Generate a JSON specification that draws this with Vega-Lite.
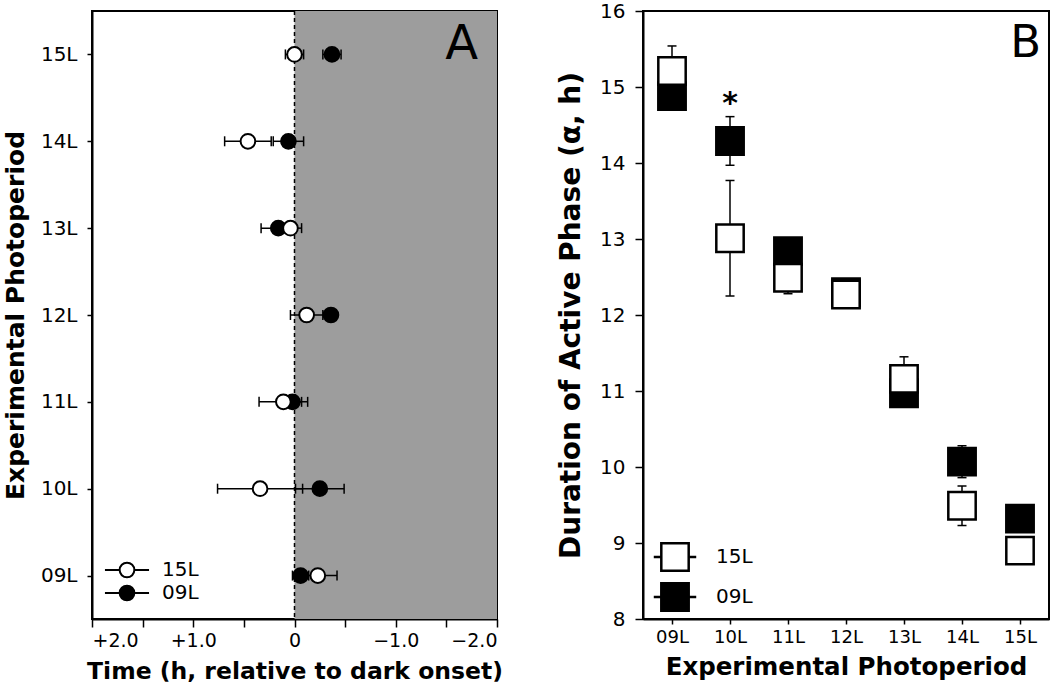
{
  "$schema": "https://vega.github.io/schema/vega-lite/v6.json",
  "background": "white",
  "padding": {"left": 2, "top": 0, "right": 0, "bottom": 0},
  "spacing": 146,
  "bounds": "flush",
  "config": {
    "view": {"stroke": "black", "strokeWidth": 2},
    "axis": {"grid": false, "domainColor": "black", "domainWidth": 2, "tickColor": "black", "tickWidth": 1.5, "labelColor": "black", "titleColor": "black", "labelFont": "DejaVu Sans", "titleFont": "DejaVu Sans", "labelFontSize": 19, "titleFontSize": 25, "titleFontWeight": "bold"},
    "legend": {"labelFont": "DejaVu Sans", "labelFontSize": 20, "labelColor": "black"}
  },
  "datasets": {
    "phase": [
      {"period": "15L", "group": "09L", "mean": -0.37, "lo": -0.46, "hi": -0.28},
      {"period": "14L", "group": "09L", "mean": 0.06, "lo": -0.09, "hi": 0.21},
      {"period": "13L", "group": "09L", "mean": 0.16, "lo": -0.01, "hi": 0.33},
      {"period": "12L", "group": "09L", "mean": -0.36, "lo": -0.41, "hi": -0.31},
      {"period": "11L", "group": "09L", "mean": 0.02, "lo": -0.07, "hi": 0.11},
      {"period": "10L", "group": "09L", "mean": -0.25, "lo": -0.49, "hi": -0.01},
      {"period": "09L", "group": "09L", "mean": -0.06, "lo": -0.14, "hi": 0.02},
      {"period": "15L", "group": "15L", "mean": 0.0, "lo": -0.09, "hi": 0.09},
      {"period": "14L", "group": "15L", "mean": 0.46, "lo": 0.23, "hi": 0.69},
      {"period": "13L", "group": "15L", "mean": 0.04, "lo": -0.07, "hi": 0.15},
      {"period": "12L", "group": "15L", "mean": -0.12, "lo": -0.28, "hi": 0.04},
      {"period": "11L", "group": "15L", "mean": 0.11, "lo": -0.13, "hi": 0.35},
      {"period": "10L", "group": "15L", "mean": 0.34, "lo": -0.08, "hi": 0.76},
      {"period": "09L", "group": "15L", "mean": -0.23, "lo": -0.42, "hi": -0.04}
    ],
    "alpha": [
      {"period": "09L", "group": "09L", "mean": 14.88, "lo": 14.7, "hi": 15.06},
      {"period": "10L", "group": "09L", "mean": 14.29, "lo": 13.97, "hi": 14.61},
      {"period": "11L", "group": "09L", "mean": 12.84, "lo": 12.72, "hi": 12.96},
      {"period": "12L", "group": "09L", "mean": 12.3, "lo": 12.22, "hi": 12.38},
      {"period": "13L", "group": "09L", "mean": 10.97, "lo": 10.87, "hi": 11.07},
      {"period": "14L", "group": "09L", "mean": 10.07, "lo": 9.86, "hi": 10.28},
      {"period": "15L", "group": "09L", "mean": 9.32, "lo": 9.22, "hi": 9.42},
      {"period": "09L", "group": "15L", "mean": 15.21, "lo": 14.88, "hi": 15.54},
      {"period": "10L", "group": "15L", "mean": 13.01, "lo": 12.25, "hi": 13.77},
      {"period": "11L", "group": "15L", "mean": 12.49, "lo": 12.28, "hi": 12.7},
      {"period": "12L", "group": "15L", "mean": 12.27, "lo": 12.2, "hi": 12.34},
      {"period": "13L", "group": "15L", "mean": 11.16, "lo": 10.87, "hi": 11.45},
      {"period": "14L", "group": "15L", "mean": 9.49, "lo": 9.23, "hi": 9.75},
      {"period": "15L", "group": "15L", "mean": 8.9, "lo": 8.8, "hi": 9.0}
    ]
  },
  "hconcat": [
    {
      "width": 405,
      "height": 608,
      "layer": [
        {
          "data": {"values": [{}]},
          "mark": {"type": "rect", "color": "#9d9d9d"},
          "encoding": {
            "x": {"datum": 0, "type": "quantitative",
              "scale": {"domain": [-2, 2], "reverse": true, "nice": false, "zero": false},
              "axis": {"title": "Time (h, relative to dark onset)", "titleFontSize": 23.5, "values": [-2, -1.75, -1.5, -1.25, -1, -0.75, -0.5, -0.25, 0, 0.25, 0.5, 0.75, 1, 1.25, 1.5, 1.75, 2],
                "labelExpr": "datum.value % 1 === 0 ? (datum.value > 0 ? '+' + format(datum.value, '.1f') : (datum.value < 0 ? '\u2212' + format(-datum.value, '.1f') : '0')) : ''",
                "tickSize": {"condition": {"test": "datum.value % 0.5 === 0", "value": 8}, "value": 5},
                "labelPadding": 4, "titlePadding": 9}},
            "x2": {"datum": -2}
          }
        },
        {
          "data": {"values": [{}]},
          "mark": {"type": "rule", "strokeDash": [4, 3], "strokeWidth": 1.5, "color": "black"},
          "encoding": {"x": {"datum": 0, "type": "quantitative"}}
        },
        {
          "data": {"name": "phase"},
          "mark": {"type": "rule", "strokeWidth": 1.5, "color": "black"},
          "encoding": {
            "y": {"field": "period", "type": "nominal", "scale": {"type": "point", "domain": ["15L", "14L", "13L", "12L", "11L", "10L", "09L"], "padding": 0.5},
              "axis": {"title": "Experimental Photoperiod", "tickSize": 5, "labelPadding": 10, "titlePadding": 12, "labelFontSize": 20}},
            "x": {"field": "lo", "type": "quantitative"},
            "x2": {"field": "hi"}
          }
        },
        {
          "data": {"name": "phase"},
          "mark": {"type": "tick", "orient": "vertical", "size": 10, "thickness": 1.5, "color": "black", "opacity": 1},
          "encoding": {
            "y": {"field": "period", "type": "nominal", "scale": {"type": "point"}},
            "x": {"field": "lo", "type": "quantitative"}
          }
        },
        {
          "data": {"name": "phase"},
          "mark": {"type": "tick", "orient": "vertical", "size": 10, "thickness": 1.5, "color": "black", "opacity": 1},
          "encoding": {
            "y": {"field": "period", "type": "nominal", "scale": {"type": "point"}},
            "x": {"field": "hi", "type": "quantitative"}
          }
        },
        {
          "data": {"name": "phase"},
          "mark": {"type": "point", "shape": "circle", "filled": true, "size": 216, "stroke": "black", "strokeWidth": 2, "opacity": 1},
          "encoding": {
            "y": {"field": "period", "type": "nominal", "scale": {"type": "point"}},
            "x": {"field": "mean", "type": "quantitative"},
            "fill": {"field": "group", "type": "nominal", "scale": {"domain": ["15L", "09L"], "range": ["white", "black"]},
              "legend": {"title": null, "orient": "none", "legendX": 25, "legendY": 549, "padding": 0,
                "symbolType": "M-3,0L-1,0M1,0L3,0M-1,0A1,1,0,1,1,1,0A1,1,0,1,1,-1,0Z",
                "symbolSize": 216, "symbolStrokeColor": "black", "symbolStrokeWidth": 2, "symbolOpacity": 1,
                "labelOffset": 25, "rowPadding": -1}}
          }
        },
        {
          "data": {"values": [{}]},
          "mark": {"type": "text", "text": "A", "fontSize": 48, "font": "DejaVu Sans", "baseline": "alphabetic", "align": "right", "dx": -19, "dy": 5, "color": "black"},
          "encoding": {
            "x": {"datum": -2, "type": "quantitative"},
            "y": {"datum": "15L", "type": "nominal", "scale": {"type": "point"}}
          }
        }
      ]
    },
    {
      "width": 406,
      "height": 608,
      "layer": [
        {
          "data": {"name": "alpha"},
          "mark": {"type": "rule", "strokeWidth": 1.5, "color": "black"},
          "encoding": {
            "x": {"field": "period", "type": "nominal", "scale": {"type": "point", "domain": ["09L", "10L", "11L", "12L", "13L", "14L", "15L"], "padding": 0.5},
              "axis": {"title": "Experimental Photoperiod", "titleFontSize": 24.5, "labelAngle": 0, "tickSize": 5, "labelPadding": 4, "titlePadding": 9, "labelFontSize": 18}},
            "y": {"field": "lo", "type": "quantitative",
              "scale": {"domain": [8, 16], "nice": false, "zero": false},
              "axis": {"title": "Duration of Active Phase (\u03b1, h)", "titleFontSize": 28, "values": [8, 8.5, 9, 9.5, 10, 10.5, 11, 11.5, 12, 12.5, 13, 13.5, 14, 14.5, 15, 15.5, 16],
                "labelExpr": "datum.value % 1 === 0 ? format(datum.value, 'd') : ''",
                "tickSize": {"condition": {"test": "datum.value % 1 === 0", "value": 8}, "value": 5},
                "labelPadding": 10, "titlePadding": 14, "labelFontSize": 20}},
            "y2": {"field": "hi"}
          }
        },
        {
          "data": {"name": "alpha"},
          "mark": {"type": "tick", "orient": "horizontal", "size": 9, "thickness": 1.5, "color": "black", "opacity": 1},
          "encoding": {
            "x": {"field": "period", "type": "nominal", "scale": {"type": "point"}},
            "y": {"field": "lo", "type": "quantitative"}
          }
        },
        {
          "data": {"name": "alpha"},
          "mark": {"type": "tick", "orient": "horizontal", "size": 9, "thickness": 1.5, "color": "black", "opacity": 1},
          "encoding": {
            "x": {"field": "period", "type": "nominal", "scale": {"type": "point"}},
            "y": {"field": "hi", "type": "quantitative"}
          }
        },
        {
          "data": {"name": "alpha"},
          "mark": {"type": "point", "shape": "square", "filled": true, "size": 750, "stroke": "black", "strokeWidth": 2.5, "opacity": 1},
          "encoding": {
            "x": {"field": "period", "type": "nominal", "scale": {"type": "point"}},
            "y": {"field": "mean", "type": "quantitative"},
            "fill": {"field": "group", "type": "nominal", "scale": {"domain": ["15L", "09L"], "range": ["white", "black"]},
              "legend": {"title": null, "orient": "none", "legendX": 17, "legendY": 531, "padding": 0,
                "symbolType": "M-1.55,0L-1,0M1,0L1.55,0M-1,-1L1,-1L1,1L-1,1Z",
                "symbolSize": 750, "symbolStrokeColor": "black", "symbolStrokeWidth": 2.5, "symbolOpacity": 1,
                "labelOffset": 26, "rowPadding": 2}}
          }
        },
        {
          "data": {"values": [{}]},
          "mark": {"type": "text", "text": "*", "fontSize": 30, "fontWeight": "bold", "font": "DejaVu Sans", "baseline": "middle", "align": "center", "color": "black"},
          "encoding": {
            "x": {"datum": "10L", "type": "nominal", "scale": {"type": "point"}},
            "y": {"datum": 14.78, "type": "quantitative"}
          }
        },
        {
          "data": {"values": [{}]},
          "mark": {"type": "text", "text": "B", "fontSize": 45, "font": "DejaVu Sans", "baseline": "alphabetic", "align": "right", "dx": 21, "dy": 8, "color": "black"},
          "encoding": {
            "x": {"datum": "15L", "type": "nominal", "scale": {"type": "point"}},
            "y": {"datum": 15.5, "type": "quantitative"}
          }
        }
      ]
    }
  ],
  "resolve": {"scale": {"fill": "independent"}, "legend": {"fill": "independent"}}
}
